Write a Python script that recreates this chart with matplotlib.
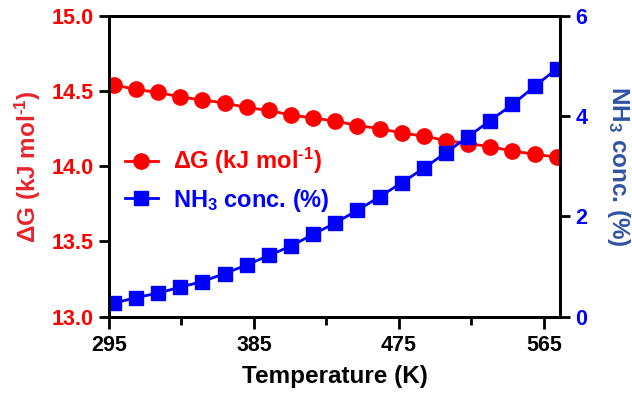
import matplotlib
matplotlib.use('Agg')
import matplotlib.pyplot as plt
from matplotlib.ticker import FixedLocator, MultipleLocator, FormatStrFormatter

plt.rcParams['font.family'] = ['Liberation Sans', 'DejaVu Sans']
plt.rcParams['font.weight'] = 'bold'
plt.rcParams['mathtext.fontset'] = 'custom'
plt.rcParams['mathtext.rm'] = 'Liberation Sans:bold'
plt.rcParams['mathtext.it'] = 'Liberation Sans:bold'
plt.rcParams['mathtext.bf'] = 'Liberation Sans:bold'
plt.rcParams['mathtext.default'] = 'bf'

# temperature (K)
temperature = [298, 311.75, 325.5, 339.25, 353, 366.75, 380.5, 394.25, 408, 421.75,
               435.5, 449.25, 463, 476.75, 490.5, 504.25, 518, 531.75, 545.5, 559.25, 573]
# Gibbs free energy (kJ/mol)
delta_g = [14.54, 14.51, 14.49, 14.46, 14.44, 14.42, 14.39, 14.37, 14.34, 14.32,
           14.30, 14.27, 14.25, 14.22, 14.20, 14.17, 14.15, 14.13, 14.10, 14.08, 14.06]
# NH3 concentration (%)
nh3_conc = [0.27, 0.38, 0.47, 0.59, 0.70, 0.86, 1.03, 1.22, 1.41, 1.64,
            1.87, 2.12, 2.39, 2.67, 2.96, 3.27, 3.59, 3.91, 4.23, 4.59, 4.94]

x_ticks = [295, 385, 475, 565]
x_minor = [340, 430, 520]

red = '#FF0000'
blue = '#0000FF'
dg_label = '\u0394G (kJ mol$^{\\text{-}1}$)'
nh3_label = 'NH$_3$ conc. (%)'

fig = plt.figure(figsize=(6.32, 3.98), dpi=100)
ax = fig.add_axes([0.1725, 0.2043, 0.7135, 0.7563])
ax2 = ax.twinx()

l1, = ax.plot(temperature, delta_g, '-o', color=red, lw=2, ms=11, label=dg_label)
l2, = ax2.plot(temperature, nh3_conc, '-s', color=blue, lw=2, ms=10, label=nh3_label)

ax.set_xlim(295, 575)
ax.set_ylim(13.0, 15.0)
ax2.set_ylim(0, 6)
ax.set_xticks(x_ticks)
ax.xaxis.set_minor_locator(FixedLocator(x_minor))
ax.yaxis.set_major_locator(MultipleLocator(0.5))
ax2.yaxis.set_major_locator(MultipleLocator(2))
ax.yaxis.set_major_formatter(FormatStrFormatter('%.1f'))

for a in (ax, ax2):
    for s in a.spines.values():
        s.set_linewidth(2)
    a.tick_params(which='both', width=2, direction='out')

ax.tick_params(axis='x', which='major', length=8.5, labelsize=15.5, pad=5)
ax.tick_params(axis='x', which='minor', length=5.5)
ax.tick_params(axis='y', length=7, labelsize=15.5, labelcolor=red, pad=4)
ax2.tick_params(axis='y', length=7, labelsize=15.5, labelcolor=blue, pad=4)

ax.set_xlabel('Temperature (K)', fontsize=17.5, fontweight='bold', labelpad=6)
ax.set_ylabel(dg_label, fontsize=17.5, fontweight='bold', color='#E8242C', labelpad=6)
ax2.set_ylabel(nh3_label, fontsize=17.5, fontweight='bold', color='#2F52A4',
               rotation=270, labelpad=32)

ax.legend(handles=[l1, l2], loc='center left', bbox_to_anchor=(0.035, 0.455),
          frameon=False, handlelength=1.4, handletextpad=0.65,
          labelspacing=0.45, borderpad=0, borderaxespad=0,
          labelcolor=[red, blue], prop={'weight': 'bold', 'size': 17})

fig.savefig('out.png', dpi=100)
